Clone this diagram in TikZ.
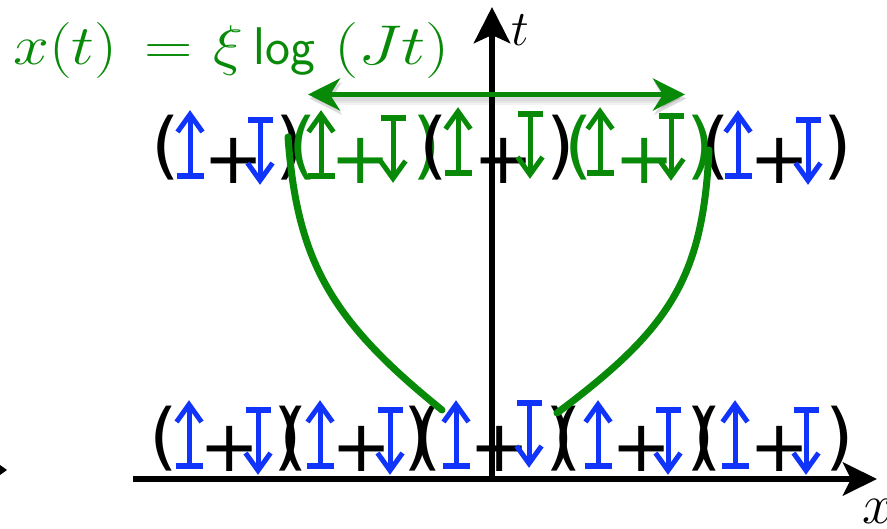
\RequirePackage{fix-cm}
\documentclass[tikz,border=0pt]{standalone}
\usepackage{fontspec}
\newfontfamily\glyphfont{DejaVu Sans}
\usetikzlibrary{arrows.meta}
\definecolor{spinblue}{RGB}{16,52,250}
\definecolor{wallgreen}{RGB}{8,138,8}
\begin{document}
\begin{tikzpicture}[x=1pt,y=-1pt,
  parglyph/.style={font=\glyphfont\fontsize{73}{80}\selectfont, inner sep=0pt, anchor=center},
  plusglyph/.style={font=\glyphfont\fontsize{72}{80}\selectfont, inner sep=0pt, anchor=center},
  spinup/.pic={
    \draw[line width=5pt] (0,5) -- (0,66);
    \draw[line width=5pt, line join=miter] (-12.5,22) -- (0,4.5) -- (12.5,22);
    \draw[line width=6.5pt] (-13.5,66) -- (13.5,66);
  },
  spindown/.pic={
    \draw[line width=6.5pt] (-12.5,3) -- (12.5,3);
    \draw[line width=5pt] (0,3) -- (0,63);
    \draw[line width=5pt, line join=miter] (-12.5,46) -- (0,63.5) -- (12.5,46);
  },
  axisline/.style={line width=6.5pt, -{Stealth[length=34pt,width=33pt,inset=8pt]}},
  wall/.style={line width=7pt, wallgreen, line cap=round},
  spread/.style={line width=5pt, wallgreen, {Stealth[length=32pt,width=32pt,inset=10pt]}-{Stealth[length=32pt,width=32pt,inset=10pt]}},
  shade/.style={line width=#1, black, opacity=0.05, {Stealth[length=32pt,width=32pt,inset=10pt]}-{Stealth[length=32pt,width=32pt,inset=10pt]}}
]
\path[use as bounding box, clip] (0,0) rectangle (887,529);

% ---------- bottom row ----------
\node[parglyph] (b1l) at (164,439) {(};
\pic[spinblue] at (189,400) {spinup};
\node[plusglyph] (b1p) at (230,449) {+};
\pic[spinblue] at (258,407) {spindown};
\node[parglyph] (b1r) at (288,439) {)};

\node[parglyph] (b2l) at (294,439) {(};
\pic[spinblue] at (320,400) {spinup};
\node[plusglyph] (b2p) at (362,449) {+};
\pic[spinblue] at (390,407) {spindown};
\node[parglyph] (b2r) at (418,439) {)};

\node[parglyph] (b3l) at (428,439) {(};
\pic[spinblue] at (456,400) {spinup};
\node[plusglyph] (b3p) at (500,449) {+};
\pic[spinblue] at (529,400) {spindown};
\node[parglyph] (b3r) at (560,439) {)};

\node[parglyph] (b4l) at (568,439) {(};
\pic[spinblue] at (598,400) {spinup};
\node[plusglyph] (b4p) at (642,449) {+};
\pic[spinblue] at (668,407) {spindown};
\node[parglyph] (b4r) at (701,439) {)};

\node[parglyph] (b5l) at (708,439) {(};
\pic[spinblue] at (735,400) {spinup};
\node[plusglyph] (b5p) at (780,449) {+};
\pic[spinblue] at (806,407) {spindown};
\node[parglyph] (b5r) at (840,439) {)};

% ---------- top row ----------
\node[parglyph] (t1l) at (166,147.5) {(};
\pic[spinblue] at (190,110) {spinup};
\node[plusglyph] (t1p) at (234,161) {+};
\pic[spinblue] at (260,117) {spindown};
\node[parglyph] (t1r) at (290,147.5) {)};

\node[parglyph, text=wallgreen] (t2l) at (303,147.5) {(};
\pic[wallgreen] at (321,110) {spinup};
\node[plusglyph, text=wallgreen] (t2p) at (361,161) {+};
\pic[wallgreen] at (393,115) {spindown};
\node[parglyph, text=wallgreen] (t2r) at (427,147.5) {)};

\node[parglyph] (t3l) at (434,147.5) {(};
\pic[wallgreen] at (458,107) {spinup};
\node[plusglyph] (t3p) at (504,161) {+};
\pic[wallgreen] at (530,111) {spindown};
\node[parglyph] (t3r) at (561,147.5) {)};

\node[parglyph, text=wallgreen] (t4l) at (579,147.5) {(};
\pic[wallgreen] at (600,107) {spinup};
\node[plusglyph, text=wallgreen] (t4p) at (645,161) {+};
\pic[wallgreen] at (671,113) {spindown};
\node[parglyph, text=wallgreen] (t4r) at (701,147.5) {)};

\node[parglyph] (t5l) at (716,147.5) {(};
\pic[spinblue] at (738,110) {spinup};
\node[plusglyph] (t5p) at (780,161) {+};
\pic[spinblue] at (808,117) {spindown};
\node[parglyph] (t5r) at (838,147.5) {)};

% ---------- axes ----------
\coordinate (xo) at (133,479);
\coordinate (xe) at (877,479);
\coordinate (tb) at (492,482);
\coordinate (te) at (492,7);
\draw[axisline] (xo) -- (xe);
\draw[axisline, -{Stealth[length=36pt,width=36pt,inset=8pt]}] (tb) -- (te);
\node[anchor=base west, inner sep=0pt, font=\fontsize{50}{56}\selectfont] (tlab) at (511,46) {$t$};
\node[anchor=base west, inner sep=0pt, font=\fontsize{56}{60}\selectfont] (xlab) at (862,523) {$x$};
\fill (0,465) -- (7,470) -- (0,475) -- cycle;

% ---------- light-cone walls ----------
\coordinate (lw0) at (288,137);
\coordinate (lw1) at (442,410);
\coordinate (rw0) at (709,150);
\coordinate (rw1) at (557,413);
\draw[wall] (lw0) .. controls (297,260) and (330,320) .. (lw1);
\draw[wall] (rw0) .. controls (703,280) and (668,330) .. (rw1);

% ---------- spreading arrow ----------
\coordinate (sa) at (308,94.5);
\coordinate (sb) at (685,94.5);
\begin{scope}[transform canvas={xshift=1.5pt, yshift=-4pt}]
  \draw[shade=13pt] (sa) -- (sb);
  \draw[shade=9pt] (sa) -- (sb);
  \draw[shade=6pt] (sa) -- (sb);
\end{scope}
\draw[spread] (sa) -- (sb);

% ---------- equation ----------
\node[anchor=base west, inner sep=0pt, text=wallgreen, font=\fontsize{56}{60}\selectfont] (eq) at (13,65)
  {\scalebox{1.15}[1]{$x(t)$}\hspace{27pt}\scalebox{1.2}[1]{$=$}\hspace{21pt}\scalebox{1.12}[1]{$\xi$}\hspace{10pt}{\fontsize{53}{60}\selectfont\sffamily log}\hspace{19pt}\scalebox{1.22}[1]{$(Jt)$}};
\end{tikzpicture}
\end{document}
